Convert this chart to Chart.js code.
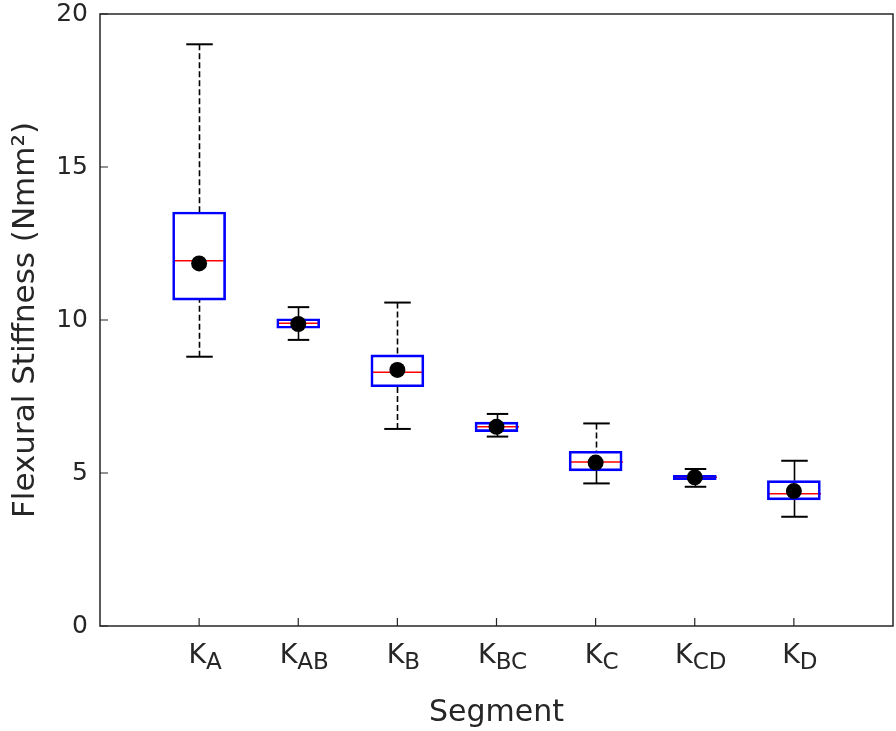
<!DOCTYPE html>
<html>
<head>
<meta charset="utf-8">
<title>Flexural Stiffness by Segment</title>
<script src="https://cdn.jsdelivr.net/npm/chart.js@4"></script>
<style>
    html, body { margin: 0; padding: 0; background: #ffffff; }
    #chart-wrap { width: 896px; height: 731px; }
</style>
</head>
<body>
<div id="chart-wrap"><canvas id="stiffnessChart"></canvas></div>
<script>
// --- Data ---
const segments = ['A', 'AB', 'B', 'BC', 'C', 'CD', 'D'];   // shown as K with subscript
const whiskerLow = [8.80, 9.35, 6.44, 6.19, 4.66, 4.55, 3.57];
const q1 = [10.65, 9.73, 7.82, 6.35, 5.07, 4.78, 4.12];
const medians = [11.94, 9.89, 8.29, 6.51, 5.36, 4.86, 4.32];
const q3 = [13.53, 10.04, 8.86, 6.66, 5.71, 4.92, 4.75];
const whiskerHigh = [19.01, 10.42, 10.57, 6.93, 6.62, 5.13, 5.40];
const means = [11.85, 9.87, 8.37, 6.51, 5.34, 4.86, 4.41];
const yTicks = [0, 5, 10, 15, 20];

// --- Styling ---
const FONT = '"DejaVu Sans", sans-serif';
const TEXT_COLOR = '#262626';
const WIDE_BOX = 53;     // px, boxes for A, B, C, D
const NARROW_BOX = 43;   // px, boxes for AB, BC, CD
const TICK_LEN = 8;

const boxWidth = i => (i % 2 === 0 ? WIDE_BOX : NARROW_BOX);

// floating bars [q1, q3] on a linear x axis
const boxData = segments.map((s, i) => ({ x: i + 1, y: [q1[i], q3[i]] }));
const meanData = segments.map((s, i) => ({ x: i + 1, y: means[i] }));

// whiskers, caps and medians drawn from the same scales
const boxPlotExtras = {
    id: 'boxPlotExtras',
    beforeDatasetsDraw(chart) {
        const { ctx, scales: { x, y } } = chart;
        const seg = (x1, y1, x2, y2) => {
            ctx.beginPath();
            ctx.moveTo(x1, y1);
            ctx.lineTo(x2, y2);
            ctx.stroke();
        };
        ctx.save();
        segments.forEach((s, i) => {
            const cx = Math.round(x.getPixelForValue(i + 1)) + 0.5;
            const half = boxWidth(i) / 2;
            const capHalf = half / 2;
            const yHi = y.getPixelForValue(whiskerHigh[i]);
            const yLo = y.getPixelForValue(whiskerLow[i]);
            const yQ3 = y.getPixelForValue(q3[i]);
            const yQ1 = y.getPixelForValue(q1[i]);

            ctx.strokeStyle = '#000000';
            ctx.lineWidth = 1.6;
            [[yHi, yQ3], [yLo, yQ1]].forEach(([from, to]) => {
                // short whiskers read as solid in the reference
                ctx.setLineDash(Math.abs(to - from) > 24 ? [6, 3] : []);
                seg(cx, from, cx, to);
            });
            ctx.setLineDash([]);
            ctx.lineWidth = 2;
            seg(cx - capHalf, yHi, cx + capHalf, yHi);
            seg(cx - capHalf, yLo, cx + capHalf, yLo);

            // median
            const yMed = y.getPixelForValue(medians[i]);
            ctx.strokeStyle = '#ff0000';
            ctx.lineWidth = 1.5;
            seg(cx - half, yMed, cx + half, yMed);
        });
        ctx.restore();
    },
    afterDraw(chart) {
        const { ctx, chartArea: area, scales: { x, y } } = chart;
        ctx.save();
        // axes box
        ctx.strokeStyle = TEXT_COLOR;
        ctx.lineWidth = 1.5;
        ctx.strokeRect(area.left, area.top, area.right - area.left, area.bottom - area.top);

        // inward tick marks
        ctx.lineWidth = 1.2;
        ctx.beginPath();
        yTicks.forEach(v => {
            const py = y.getPixelForValue(v);
            ctx.moveTo(area.left, py);
            ctx.lineTo(area.left + TICK_LEN, py);
        });
        segments.forEach((s, i) => {
            const px = x.getPixelForValue(i + 1);
            ctx.moveTo(px, area.bottom);
            ctx.lineTo(px, area.bottom - TICK_LEN);
        });
        ctx.stroke();

        // category labels K with subscript
        ctx.fillStyle = TEXT_COLOR;
        ctx.textAlign = 'left';
        ctx.textBaseline = 'alphabetic';
        segments.forEach((s, i) => {
            const px = x.getPixelForValue(i + 1);
            ctx.font = '27px ' + FONT;
            const kW = ctx.measureText('K').width;
            ctx.font = '23px ' + FONT;
            const subW = ctx.measureText(s).width;
            const x0 = px - (kW + subW) / 2 + 6;
            ctx.font = '27px ' + FONT;
            ctx.fillText('K', x0, area.bottom + 37);
            ctx.font = '23px ' + FONT;
            ctx.fillText(s, x0 + kW, area.bottom + 43);
        });
        ctx.restore();
    }
};

const ctx = document.getElementById('stiffnessChart').getContext('2d');

new Chart(ctx, {
    type: 'bar',
    data: {
        datasets: [
            {
                type: 'scatter',
                label: 'Mean',
                data: meanData,
                pointRadius: 8,
                pointBackgroundColor: '#000000',
                pointBorderWidth: 0
            },
            {
                label: 'IQR (wide)',
                data: boxData.filter((d, i) => i % 2 === 0),
                barThickness: WIDE_BOX,
                grouped: false,
                backgroundColor: 'rgba(0,0,0,0)',
                borderColor: '#0000ff',
                borderWidth: 2,
                borderSkipped: false
            },
            {
                label: 'IQR (narrow)',
                data: boxData.filter((d, i) => i % 2 === 1),
                barThickness: NARROW_BOX,
                grouped: false,
                backgroundColor: 'rgba(0,0,0,0)',
                borderColor: '#0000ff',
                borderWidth: 2,
                borderSkipped: false
            }
        ]
    },
    options: {
        responsive: true,
        maintainAspectRatio: false,
        animation: false,
        layout: { autoPadding: false, padding: { top: 14, right: 3, left: 0, bottom: 0 } },
        plugins: {
            legend: { display: false },
            tooltip: { enabled: false }
        },
        scales: {
            x: {
                type: 'linear',
                offset: false,
                min: 0,
                max: segments.length + 1,
                grid: { display: false, drawTicks: false, offset: false },
                border: { display: false },
                ticks: { display: false, stepSize: 1 },
                title: {
                    display: true,
                    text: 'Segment',
                    color: TEXT_COLOR,
                    font: { family: FONT, size: 30 },
                    padding: { top: 0, bottom: 0 }
                },
                afterFit: scale => {
                    scale.height = 105;
                    scale.paddingLeft = 0;
                    scale.paddingRight = 0;
                }
            },
            y: {
                min: 0,
                max: 20,
                grid: { display: false, drawTicks: false },
                border: { display: false },
                afterBuildTicks: scale => {
                    scale.ticks = yTicks.map(v => ({ value: v }));
                },
                ticks: {
                    color: TEXT_COLOR,
                    padding: 12,
                    font: { family: FONT, size: 25 }
                },
                title: {
                    display: true,
                    text: 'Flexural Stiffness (Nmm²)',
                    color: TEXT_COLOR,
                    font: { family: FONT, size: 31 },
                    padding: { top: 7, bottom: 0 }
                },
                afterFit: scale => {
                    scale.width = 100;
                    scale.paddingTop = 0;
                    scale.paddingBottom = 0;
                    scale.paddingLeft = 0;
                    scale.paddingRight = 0;
                }
            }
        }
    },
    plugins: [boxPlotExtras]
});
</script>
</body>
</html>
